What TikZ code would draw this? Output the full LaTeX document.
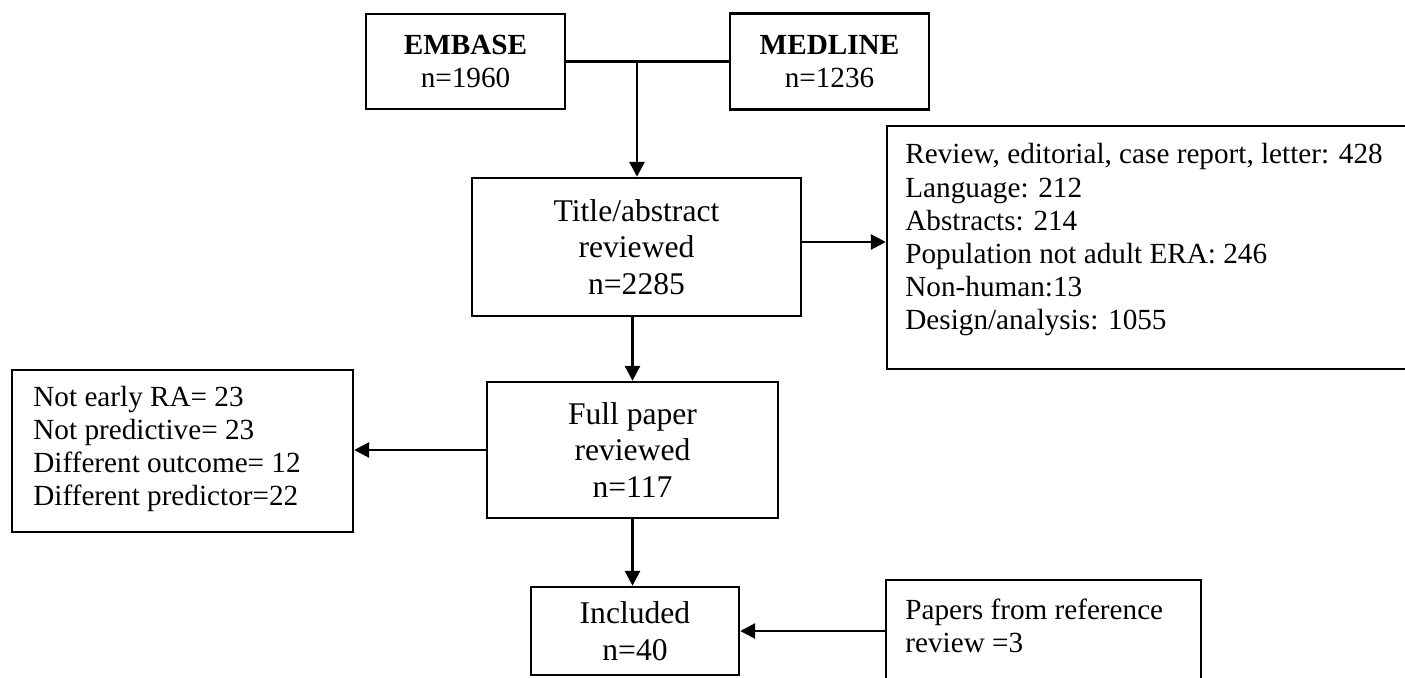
\documentclass[tikz,border=0pt]{standalone}
\usepackage{fontspec}
\setmainfont{Liberation Serif}
\usetikzlibrary{arrows.meta}
\begin{document}
\begin{tikzpicture}[x=0.5pt,y=-0.5pt,
  box/.style={draw, line width=1.2pt, inner sep=0pt, align=center},
  small/.style={font=\fontsize{14.6pt}{16.6pt}\selectfont},
  big/.style={font=\fontsize{15.8pt}{18.3pt}\selectfont},
  txt/.style={small, align=left, inner sep=0pt, anchor=west},
  arr/.style={line width=1.4pt, -{Triangle[length=7.5pt,width=7.5pt]}},
  conn/.style={line width=1.4pt}]
\clip (0,0) rectangle (1405,677);
\fill[white] (0,0) rectangle (1405,677);
% boxes
\node[box, small, minimum width=99.5pt, minimum height=47.5pt] (embase) at (465.5,61.5) {\textbf{EMBASE}\\n=1960};
\node[box, small, minimum width=99.5pt, minimum height=48pt] (medline) at (829.5,61.5) {\textbf{MEDLINE}\\n=1236};
\node[box, big, minimum width=164.5pt, minimum height=69pt] (title) at (636.5,247) {Title/abstract\\reviewed\\n=2285};
\node[box, big, minimum width=145.5pt, minimum height=68pt] (full) at (632.5,450) {Full paper\\reviewed\\n=117};
\node[box, big, minimum width=104pt, minimum height=44pt] (included) at (635,631) {Included\\n=40};
\node[box, minimum width=269pt, minimum height=121.5pt] (exclA) at (1156,247.5) {};
\node[txt] (exclAtext) at (905,240) {Review, editorial, case report, letter: 428\\Language: 212\\Abstracts: 214\\Population not adult ERA: 246\\Non-human:13\\Design/analysis: 1055};
\node[box, minimum width=170.5pt, minimum height=81pt] (exclB) at (182.5,451) {};
\node[txt] (exclBtext) at (33,449) {Not early RA= 23\\Not predictive= 23\\Different outcome= 12\\Different predictor=22};
\node[box, minimum width=157.5pt, minimum height=70pt] (ref) at (1043.5,650) {};
\node[txt] (reftext) at (905,626) {Papers from reference\\review =3};
% connectors
\coordinate (j) at (637,61.5);
\draw[conn] (embase.east) -- (medline.west);
\draw[arr] (j) -- (j |- title.north);
\draw[arr] ([yshift=2.5pt]title.east) -- ([yshift=2.5pt]title.east -| exclA.west);
\draw[arr] (full.north |- title.south) -- (full.north);
\draw[arr] (full.west) -- (full.west -| exclB.east);
\draw[arr] (full.south) -- (full.south |- included.north);
\draw[arr] (included.east -| ref.west) -- (included.east);
\end{tikzpicture}
\end{document}
